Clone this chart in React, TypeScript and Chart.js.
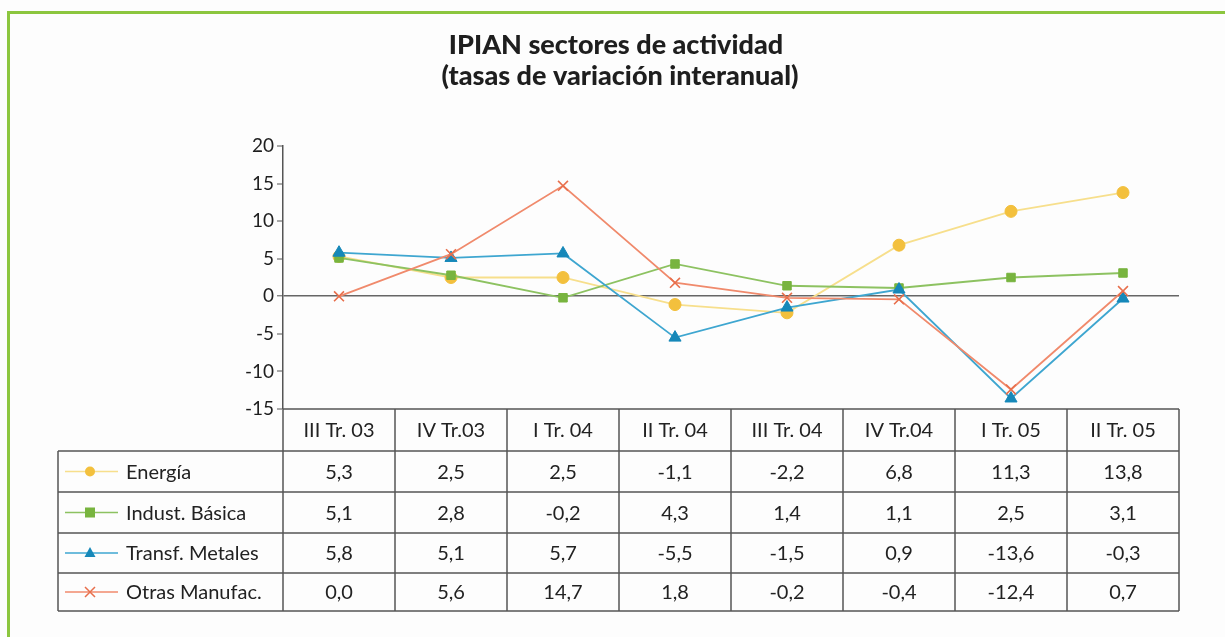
import React, { useEffect, useRef } from "react";
import { Chart, registerables } from "chart.js";

Chart.register(...registerables);

const titleLines = ["IPIAN sectores de actividad", "(tasas de variación interanual)"];
const categories = ["III Tr. 03", "IV Tr.03", "I Tr. 04", "II Tr. 04", "III Tr. 04", "IV Tr.04", "I Tr. 05", "II Tr. 05"];
const seriesNames = ["Energía", "Indust. Básica", "Transf. Metales", "Otras Manufac."];
const energia = [5.3, 2.5, 2.5, -1.1, -2.2, 6.8, 11.3, 13.8];
const industBasica = [5.1, 2.8, -0.2, 4.3, 1.4, 1.1, 2.5, 3.1];
const transfMetales = [5.8, 5.1, 5.7, -5.5, -1.5, 0.9, -13.6, -0.3];
const otrasManufac = [0.0, 5.6, 14.7, 1.8, -0.2, -0.4, -12.4, 0.7];
const yMin = -15;
const yMax = 20;
const yStep = 5;

const FONT = "Lato, 'Open Sans', sans-serif";

const styles = [
  { line: "#f7df8c", point: "#f3c03d", shape: "circle", radius: 6 },
  { line: "#8dc261", point: "#78b43f", shape: "rect", radius: 6 },
  { line: "#3ea6d0", point: "#1688b9", shape: "triangle", radius: 7 },
  { line: "#f08a6c", point: "#e86f4c", shape: "crossRot", radius: 7 },
];

const fmt = (v: number) => v.toFixed(1).replace(".", ",");

export default function App() {
  const ref = useRef<HTMLCanvasElement | null>(null);

  useEffect(() => {
    document.body.style.margin = "0";
    const canvas = ref.current!;
    const seriesData = [energia, industBasica, transfMetales, otrasManufac];

    const frameAndTable = {
      id: "frameAndTable",
      beforeDraw(chart: any) {
        const ctx = chart.ctx as CanvasRenderingContext2D;
        ctx.save();
        ctx.fillStyle = "#fdfdfd";
        ctx.fillRect(0, 0, chart.width, chart.height);
        ctx.fillStyle = "#8cc63f";
        ctx.fillRect(7, 11, chart.width - 7, 3);
        ctx.fillRect(7, 11, 3, chart.height - 11);
        // title
        ctx.fillStyle = "#1e1e1e";
        ctx.textAlign = "center";
        ctx.textBaseline = "middle";
        ctx.font = `900 27px ${FONT}`;
        ctx.fillText(titleLines[0], 616, 45);
        ctx.fillText(titleLines[1], 620, 76);
        ctx.restore();
      },
      afterDraw(chart: any) {
        const ctx = chart.ctx as CanvasRenderingContext2D;
        const area = chart.chartArea;
        const xs = chart.scales.x;
        const left = area.left;
        const right = area.right;
        const legendLeft = 58;
        const headerTop = area.bottom;
        const rowTops = [headerTop, 451, 492, 533, 573, 611];
        const n = categories.length;
        const colW = (right - left) / n;
        ctx.save();
        ctx.strokeStyle = "#555";
        ctx.lineWidth = 1.5;
        ctx.beginPath();
        ctx.moveTo(left, rowTops[0]);
        ctx.lineTo(right, rowTops[0]);
        for (let i = 1; i < rowTops.length; i++) {
          ctx.moveTo(legendLeft, rowTops[i]);
          ctx.lineTo(right, rowTops[i]);
        }
        for (let c = 0; c <= n; c++) {
          const x = left + c * colW;
          ctx.moveTo(x, rowTops[0]);
          ctx.lineTo(x, rowTops[rowTops.length - 1]);
        }
        ctx.moveTo(legendLeft, rowTops[1]);
        ctx.lineTo(legendLeft, rowTops[rowTops.length - 1]);
        ctx.stroke();

        ctx.fillStyle = "#222";
        ctx.textAlign = "center";
        ctx.textBaseline = "middle";
        ctx.font = `20px ${FONT}`;
        categories.forEach((cat, i) => {
          const x = xs.getPixelForValue(i);
          ctx.fillText(cat, x, (rowTops[0] + rowTops[1]) / 2 + 1);
        });
        seriesData.forEach((arr, r) => {
          const cy = (rowTops[r + 1] + rowTops[r + 2]) / 2 + 1;
          arr.forEach((v, i) => {
            ctx.fillText(fmt(v), xs.getPixelForValue(i), cy);
          });
        });
        seriesNames.forEach((name, r) => {
          const cy = (rowTops[r + 1] + rowTops[r + 2]) / 2;
          const st = styles[r];
          ctx.strokeStyle = st.line;
          ctx.lineWidth = 1.6;
          ctx.beginPath();
          ctx.moveTo(65, cy);
          ctx.lineTo(118, cy);
          ctx.stroke();
          ctx.fillStyle = st.point;
          ctx.strokeStyle = st.point;
          const mx = 90;
          const s = 5;
          if (st.shape === "circle") {
            ctx.beginPath();
            ctx.arc(mx, cy, s, 0, Math.PI * 2);
            ctx.fill();
          } else if (st.shape === "rect") {
            ctx.fillRect(mx - s, cy - s, 2 * s, 2 * s);
          } else if (st.shape === "triangle") {
            ctx.beginPath();
            ctx.moveTo(mx, cy - 6);
            ctx.lineTo(mx + 5.5, cy + 4);
            ctx.lineTo(mx - 5.5, cy + 4);
            ctx.closePath();
            ctx.fill();
          } else {
            ctx.lineWidth = 1.5;
            ctx.beginPath();
            ctx.moveTo(mx - 5, cy - 5);
            ctx.lineTo(mx + 5, cy + 5);
            ctx.moveTo(mx + 5, cy - 5);
            ctx.lineTo(mx - 5, cy + 5);
            ctx.stroke();
          }
          ctx.fillStyle = "#222";
          ctx.textAlign = "left";
          ctx.font = `20px ${FONT}`;
          ctx.fillText(name, 126, cy + 1);
        });
        ctx.restore();
      },
    };

    const chart = new Chart(canvas, {
      type: "line",
      data: {
        labels: categories,
        datasets: seriesData.map((arr, i) => ({
          label: seriesNames[i],
          data: arr,
          borderColor: styles[i].line,
          backgroundColor: styles[i].point,
          pointBackgroundColor: styles[i].point,
          pointBorderColor: styles[i].point,
          pointBorderWidth: styles[i].shape === "crossRot" ? 1.6 : 1,
          pointStyle: styles[i].shape as any,
          pointRadius: styles[i].radius,
          borderWidth: 1.8,
          tension: 0,
          fill: false,
          order: 4 - i,
        })),
      },
      options: {
        responsive: false,
        animation: false,
        devicePixelRatio: 1,
        layout: { padding: { left: 223, right: 46, top: 146, bottom: 228 } },
        plugins: {
          legend: { display: false },
          title: { display: false },
          tooltip: { enabled: false },
        },
        scales: {
          x: {
            type: "category",
            offset: true,
            display: false,
            grid: { display: false },
          },
          y: {
            min: yMin,
            max: yMax,
            afterFit: (s: any) => {
              s.width = 60;
            },
            ticks: {
              stepSize: yStep,
              color: "#1e1e1e",
              font: { family: FONT, size: 19 },
              padding: 3,
            },
            border: { display: true, color: "#555", width: 1.5 },
            grid: {
              color: (c: any) => (c.tick && c.tick.value === 0 ? "#666" : "rgba(0,0,0,0)"),
              lineWidth: (c: any) => (c.tick && c.tick.value === 0 ? 1.6 : 0),
              drawTicks: true,
              tickColor: "#555",
              tickLength: 6,
              tickWidth: 1,
            },
          },
        },
      },
      plugins: [frameAndTable],
    });

    return () => chart.destroy();
  }, []);

  return (
    <div style={{ position: "fixed", left: 0, top: 0, width: 1225, height: 637 }}>
      <canvas ref={ref} width={1225} height={637} style={{ display: "block", width: 1225, height: 637 }} />
    </div>
  );
}
